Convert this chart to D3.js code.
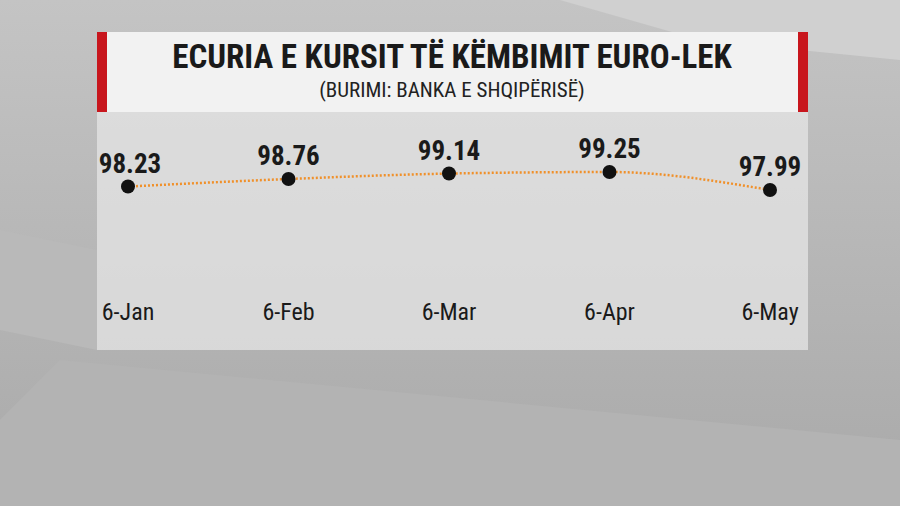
<!DOCTYPE html>
<html><head><meta charset="utf-8">
<script src="https://cdn.jsdelivr.net/npm/d3@7/dist/d3.min.js"></script>
<style>body{margin:0;overflow:hidden}</style>
</head><body>
<svg id="c" width="900" height="506"></svg>
<script>
var dates = ["6-Jan", "6-Feb", "6-Mar", "6-Apr", "6-May"];
var rates = [98.23, 98.76, 99.14, 99.25, 97.99];
var labels = ["98.23", "98.76", "99.14", "99.25", "97.99"];

var svg = d3.select("#c");
var cond = "'Liberation Sans Narrow','Roboto Condensed','DejaVu Sans Condensed',Roboto,sans-serif";

// background
var g0 = svg.append("defs").append("linearGradient").attr("id", "bg")
    .attr("x1", 0).attr("y1", 0).attr("x2", 0).attr("y2", 1);
g0.append("stop").attr("offset", 0).attr("stop-color", "#c4c4c4");
g0.append("stop").attr("offset", 1).attr("stop-color", "#a9a9a9");
svg.append("rect").attr("width", 900).attr("height", 506).attr("fill", "url(#bg)");
// faint geometric shapes
svg.append("path").attr("d", "M0,420 L60,360 L900,440 L900,506 L0,506Z").attr("fill", "#b3b3b3");
svg.append("path").attr("d", "M560,0 L900,0 L900,60 L700,40Z").attr("fill", "#d0d0d0");
svg.append("path").attr("d", "M0,230 L97,250 L97,350 L0,330Z").attr("fill", "#b9b9b9");

// panels
svg.append("rect").attr("x", 97).attr("y", 112).attr("width", 711).attr("height", 238)
    .attr("fill", "#e6e6e6").attr("opacity", 0.75);
svg.append("rect").attr("x", 97).attr("y", 32).attr("width", 711).attr("height", 80).attr("fill", "#f2f2f2");
svg.append("rect").attr("x", 97).attr("y", 32).attr("width", 10).attr("height", 80).attr("fill", "#c8161d");
svg.append("rect").attr("x", 798).attr("y", 32).attr("width", 10).attr("height", 80).attr("fill", "#c8161d");

svg.append("text").attr("x", 452).attr("y", 68).attr("text-anchor", "middle")
    .attr("font-family", cond).attr("font-weight", "bold").attr("font-size", 33).attr("fill", "#1a1a1a")
    .text("ECURIA E KURSIT TË KËMBIMIT EURO-LEK");
svg.append("text").attr("x", 452).attr("y", 97).attr("text-anchor", "middle")
    .attr("font-family", cond).attr("font-size", 21).attr("fill", "#222")
    .text("(BURIMI: BANKA E SHQIPËRISË)");

var x = d3.scalePoint().domain(dates).range([128, 770]);
var y = d3.scaleLinear().domain([97.99, 99.25]).range([190, 172]);

var line = d3.line().x(function(d, i){ return x(dates[i]); }).y(function(d){ return y(d); })
    .curve(d3.curveMonotoneX);
svg.append("path").datum(rates).attr("d", line).attr("fill", "none")
    .attr("stroke", "#f0902a").attr("stroke-width", 2.5).attr("stroke-dasharray", "2,2");

svg.selectAll(".pt").data(rates).enter().append("circle")
    .attr("cx", function(d, i){ return x(dates[i]); }).attr("cy", function(d){ return y(d); })
    .attr("r", 7).attr("fill", "#111");

svg.selectAll(".lb").data(rates).enter().append("text")
    .attr("x", function(d, i){ return x(dates[i]) + (i === 0 ? 2 : 0); }).attr("y", function(d){ return y(d) - 14; })
    .attr("text-anchor", "middle").attr("font-family", cond).attr("font-weight", "bold")
    .attr("font-size", 27).attr("fill", "#1a1a1a")
    .text(function(d, i){ return labels[i]; });

svg.selectAll(".xl").data(dates).enter().append("text")
    .attr("x", function(d){ return x(d); }).attr("y", 320)
    .attr("text-anchor", "middle").attr("font-family", cond).attr("font-size", 24).attr("fill", "#1a1a1a")
    .text(function(d){ return d; });
</script>
</body></html>
